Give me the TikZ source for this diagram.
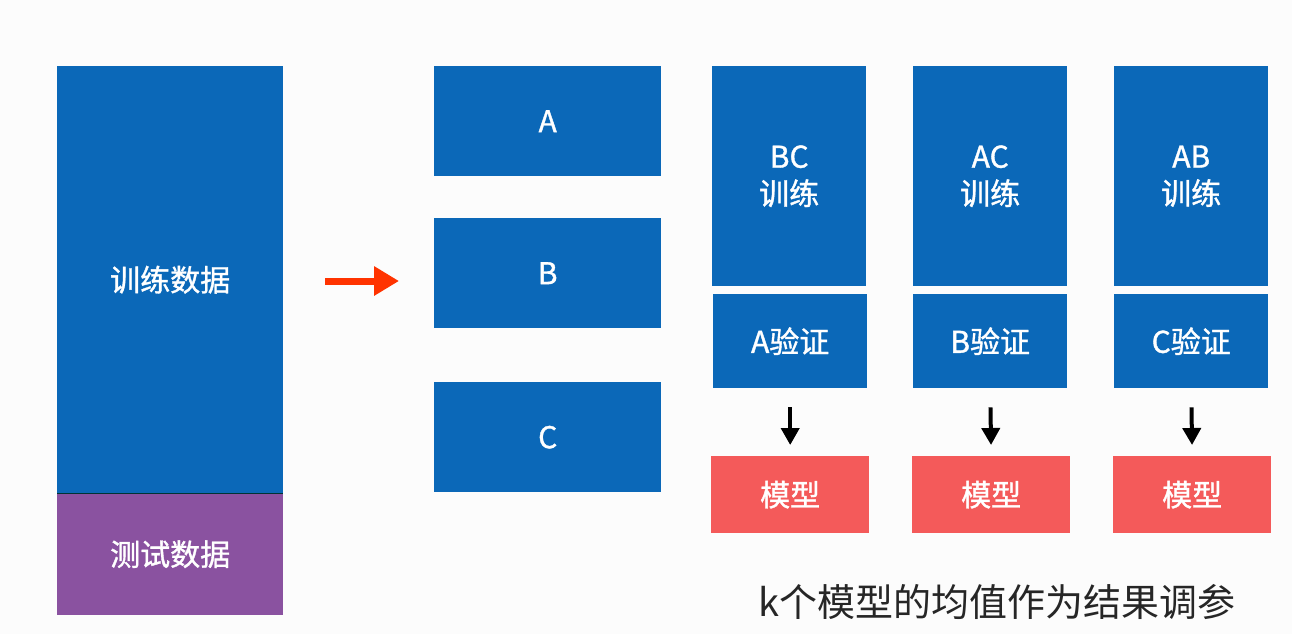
\documentclass[tikz,border=0pt]{standalone}
\usepackage{fontspec}
\setmainfont{Noto Sans CJK SC}
\newfontfamily\boxfont[FakeBold=1.2]{Noto Sans CJK SC}
\usetikzlibrary{arrows.meta}
\definecolor{boxblue}{HTML}{0B68B8}
\definecolor{boxpurple}{HTML}{8A52A0}
\definecolor{boxred}{HTML}{F45A5A}
\definecolor{arrred}{HTML}{FF3300}
\tikzset{
  blk/.style={fill=#1, draw=none, anchor=north west, inner sep=0pt, text=white,
    font=\boxfont\fontsize{30}{37}\selectfont, align=center},
  downarr/.style={-{Triangle[width=18pt,length=17pt]}, line width=4pt, black},
}
\begin{document}
\begin{tikzpicture}[x=1pt,y=-1pt]
\fill[white!98!gray] (0,0) rectangle (1292,634);
\useasboundingbox (0,0) rectangle (1292,634);
% left
\node[blk=boxblue, minimum width=226pt, minimum height=427pt] (train) at (57,66) {训练数据};
\node[blk=boxpurple, minimum width=226pt, minimum height=122pt] (test) at (57,493) {测试数据};
\draw[line width=1pt, black!60!teal] (test.north west) -- (test.north east);
% arrow
\coordinate (arrS) at (325,281);
\coordinate (arrE) at (399,281);
\draw[arrred, line width=7pt, -{Triangle[width=28pt,length=25pt]}] (arrS) -- (arrE);
% folds
\node[blk=boxblue, minimum width=227pt, minimum height=110pt] (A) at (434,66) {A};
\node[blk=boxblue, minimum width=227pt, minimum height=110pt] (B) at (434,218) {B};
\node[blk=boxblue, minimum width=227pt, minimum height=110pt] (C) at (434,382) {C};
% column 1
\node[blk=boxblue, minimum width=154pt, minimum height=220pt] (t1) at (712,66) {BC\\训练};
\node[blk=boxblue, minimum width=154pt, minimum height=94pt] (v1) at (713,294) {A验证};
\node[blk=boxred, minimum width=158pt, minimum height=77pt] (m1) at (711,456) {模型};
% column 2
\node[blk=boxblue, minimum width=154pt, minimum height=220pt] (t2) at (913,66) {AC\\训练};
\node[blk=boxblue, minimum width=154pt, minimum height=94pt] (v2) at (913,294) {B验证};
\node[blk=boxred, minimum width=158pt, minimum height=77pt] (m2) at (912,456) {模型};
% column 3
\node[blk=boxblue, minimum width=154pt, minimum height=220pt] (t3) at (1114,66) {AB\\训练};
\node[blk=boxblue, minimum width=154pt, minimum height=94pt] (v3) at (1114,294) {C验证};
\node[blk=boxred, minimum width=158pt, minimum height=77pt] (m3) at (1113,456) {模型};
% down arrows
\draw[downarr, shorten <=19pt, shorten >=11pt] (v1.south) -- (m1.north);
\draw[downarr, shorten <=19pt, shorten >=11pt] (v2.south) -- (m2.north);
\draw[downarr, shorten <=19pt, shorten >=11pt] (v3.south) -- (m3.north);
% caption
\node[font=\fontsize{38}{44}\selectfont, text=black!85, anchor=center] (cap) at (997,602) {k个模型的均值作为结果调参};
\end{tikzpicture}
\end{document}
